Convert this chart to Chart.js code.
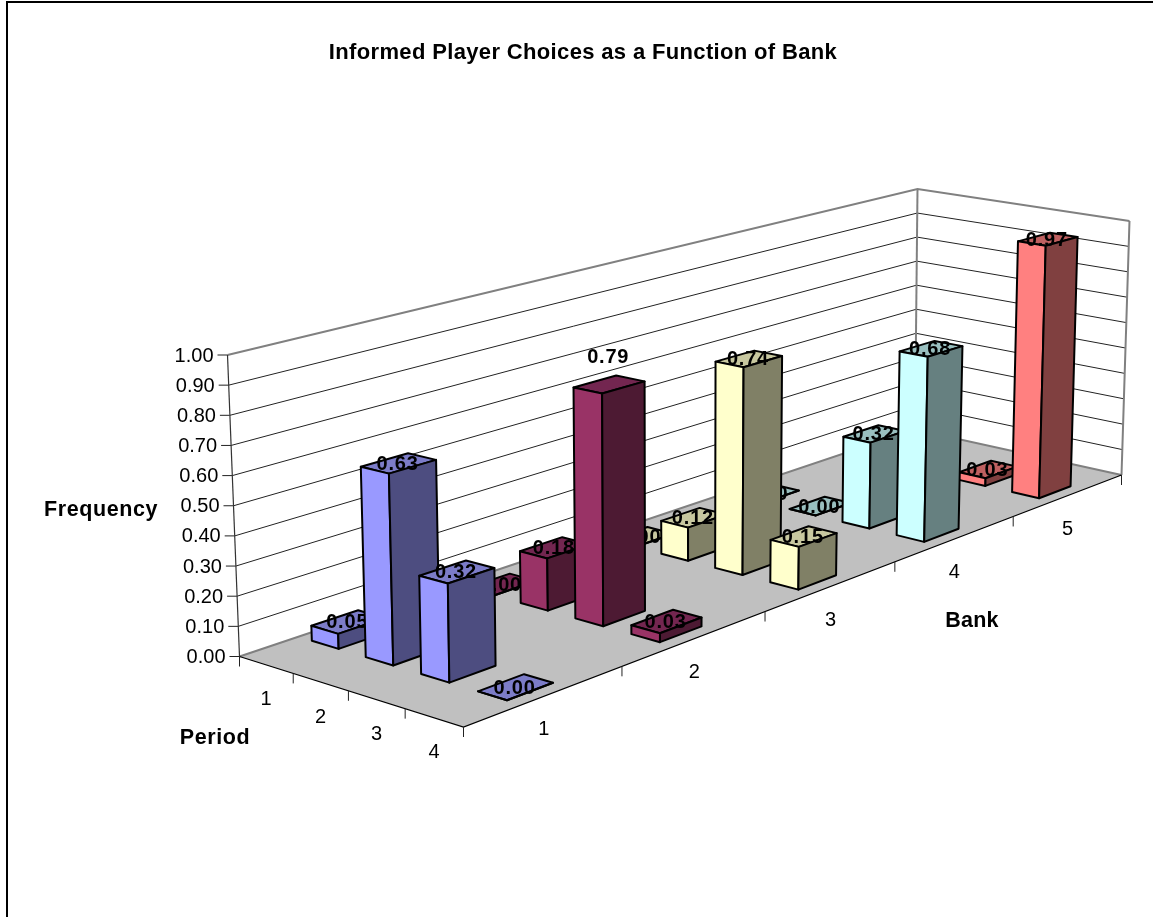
<!DOCTYPE html>
<html lang="en">
<head>
    <meta charset="UTF-8">
    <title>Informed Player Choices as a Function of Bank</title>
    <script src="https://cdn.jsdelivr.net/npm/chart.js"></script>
    <style>
        html, body { margin: 0; padding: 0; background: #fff; }
        canvas { display: block; }
    </style>
</head>
<body>
    <canvas id="chart" width="1153" height="917"></canvas>

    <script>
        const banks = ['1', '2', '3', '4', '5'];
        const periods = ['1', '2', '3', '4'];
        const bank1 = [0.05, 0.63, 0.32, 0.00];
        const bank2 = [0.00, 0.18, 0.79, 0.03];
        const bank3 = [0.00, 0.12, 0.74, 0.15];
        const bank4 = [0.00, 0.00, 0.32, 0.68];
        const bank5 = [null, null, 0.03, 0.97];
        const frequencyTicks = [0, 0.1, 0.2, 0.3, 0.4, 0.5, 0.6, 0.7, 0.8, 0.9, 1];

        // front, side and top shade per bank
        const shades = [
            ['#9999ff', '#4d4d80', '#7c7cc8'],
            ['#993366', '#4d1a33', '#732650'],
            ['#ffffcc', '#808066', '#c8c8a0'],
            ['#ccffff', '#668080', '#99bfbf'],
            ['#ff8080', '#804040', '#bf6060']
        ];

        // corners of the 3D box as seen in the picture: left, back, right, front
        const floorCorners = [[239.5, 656.5], [915, 429.5], [1121.5, 475], [463.5, 727]];
        const roofCorners = [[227.5, 355], [917.5, 189], [1129.5, 221], [460, 405]];
        const barWidth = 0.29;   // share of a bank cell
        const barDepth = 0.5;    // share of a period cell

        function homography(q) {
            const [[x0, y0], [x1, y1], [x2, y2], [x3, y3]] = q;
            const dx1 = x1 - x2, dx2 = x3 - x2, sx = x0 - x1 + x2 - x3;
            const dy1 = y1 - y2, dy2 = y3 - y2, sy = y0 - y1 + y2 - y3;
            const den = dx1 * dy2 - dx2 * dy1;
            const g = (sx * dy2 - dx2 * sy) / den;
            const h = (dx1 * sy - sx * dy1) / den;
            const a = x1 - x0 + g * x1, b = x3 - x0 + h * x3;
            const d = y1 - y0 + g * y1, e = y3 - y0 + h * y3;
            return (u, v) => {
                const w = g * u + h * v + 1;
                return [(a * u + b * v + x0) / w, (d * u + e * v + y0) / w];
            };
        }
        const floorMap = homography(floorCorners);
        const roofMap = homography(roofCorners);

        // bank position, period position, height (0..1) -> picture coordinates
        function project(b, p, w) {
            const lo = floorMap(b / banks.length, p / periods.length);
            const hi = roofMap(b / banks.length, p / periods.length);
            return [lo[0] + (hi[0] - lo[0]) * w, lo[1] + (hi[1] - lo[1]) * w];
        }

        const allBanks = [bank1, bank2, bank3, bank4, bank5];
        const datasets = allBanks.map((values, b) => ({
            label: 'Bank ' + banks[b],
            pointRadius: 0,
            data: values.map((value, p) => {
                const top = project(b + 0.5, p + 0.5, value === null ? 0 : value);
                return { x: top[0], y: top[1], value: value };
            })
        }));

        const box3d = {
            id: 'box3d',
            afterDatasetsDraw(chart) {
                const ctx = chart.ctx;
                const sx = chart.scales.x, sy = chart.scales.y, sf = chart.scales.freq;
                const pt = (b, p, value) => {
                    const q = project(b, p, sf.getDecimalForPixel(sf.getPixelForValue(value)));
                    return [sx.getPixelForValue(q[0]), sy.getPixelForValue(q[1])];
                };
                const line = (pts, color, width) => {
                    ctx.beginPath();
                    pts.forEach((q, i) => i ? ctx.lineTo(q[0], q[1]) : ctx.moveTo(q[0], q[1]));
                    ctx.strokeStyle = color;
                    ctx.lineWidth = width;
                    ctx.stroke();
                };
                const face = (pts, fill) => {
                    ctx.beginPath();
                    pts.forEach((q, i) => i ? ctx.lineTo(q[0], q[1]) : ctx.moveTo(q[0], q[1]));
                    ctx.closePath();
                    ctx.fillStyle = fill;
                    ctx.fill();
                    ctx.strokeStyle = '#000';
                    ctx.lineWidth = 2;
                    ctx.lineJoin = 'round';
                    ctx.stroke();
                };
                const text = (str, x, y, font, align, spacing) => {
                    ctx.font = font;
                    ctx.textAlign = align || 'center';
                    ctx.textBaseline = 'middle';
                    ctx.letterSpacing = spacing || '0px';
                    ctx.fillStyle = '#000';
                    ctx.fillText(str, x, y);
                };
                const nb = banks.length, np = periods.length;
                const plain = '20px "Liberation Sans", Arial, sans-serif';
                const bold = 'bold 21.5px "Liberation Sans", Arial, sans-serif';

                ctx.save();

                // page frame, only top and left show in the picture
                line([[7, 917], [7, 2], [1153, 2]], '#000', 2);

                // floor
                ctx.beginPath();
                [pt(0, 0, 0), pt(nb, 0, 0), pt(nb, np, 0), pt(0, np, 0)].forEach((q, i) =>
                    i ? ctx.lineTo(q[0], q[1]) : ctx.moveTo(q[0], q[1]));
                ctx.closePath();
                ctx.fillStyle = '#c0c0c0';
                ctx.fill();

                // walls and gridlines
                frequencyTicks.forEach(t => {
                    const a = pt(0, 0, t), b = pt(nb, 0, t), c = pt(nb, np, t);
                    if (t === 0 || t === 1) line([a, b, c], '#808080', 2);
                    else line([a, b, c], '#222', 1);
                    line([a, [a[0] - 10, a[1]]], '#222', 1);
                    text(t.toFixed(2), a[0] - 14, a[1] + 1, plain, 'right');
                });
                line([pt(nb, 0, 0), pt(nb, 0, 1)], '#808080', 2);
                line([pt(nb, np, 0), pt(nb, np, 1)], '#808080', 2);
                line([pt(0, 0, 0), pt(0, 0, 1)], '#333', 1.2);

                // front floor edges with ticks and category labels
                line([pt(0, 0, 0), pt(0, np, 0), pt(nb, np, 0)], '#000', 1.2);
                for (let p = 0; p <= np; p++) {
                    const q = pt(0, p, 0);
                    line([q, [q[0], q[1] + 10]], '#222', 1);
                }
                for (let b = 0; b <= nb; b++) {
                    const q = pt(b, np, 0);
                    line([q, [q[0], q[1] + 10]], '#222', 1);
                }
                periods.forEach((label, p) => {
                    const q = pt(0, p + 0.5, 0);
                    text(label, q[0], q[1] + 35, plain);
                });
                banks.forEach((label, b) => {
                    const q = pt(b + 0.5, np, 0);
                    text(label, q[0] - 1, q[1] + 34, plain);
                });

                // bars back to front, each with its label so nearer bars cover it
                for (let b = nb - 1; b >= 0; b--) {
                    const shade = shades[b];
                    allBanks[b].forEach((value, p) => {
                        if (value === null) return;
                        const u0 = b + 0.5 - barWidth / 2, u1 = b + 0.5 + barWidth / 2;
                        const v0 = p + 0.5 - barDepth / 2, v1 = p + 0.5 + barDepth / 2;
                        face([pt(u0, v0, value), pt(u1, v0, value), pt(u1, v1, value), pt(u0, v1, value)], shade[2]);
                        face([pt(u0, v0, 0), pt(u0, v1, 0), pt(u0, v1, value), pt(u0, v0, value)], shade[0]);
                        face([pt(u0, v1, 0), pt(u1, v1, 0), pt(u1, v1, value), pt(u0, v1, value)], shade[1]);
                        const c = pt(b + 0.5, p + 0.5, value);
                        // the 0.79 label sits above its bar in the original
                        const lift = value === 0.79 ? 28 : 0;
                        text(value.toFixed(2), c[0] - 1, c[1] + 1 - lift, 'bold 20px "Liberation Sans", Arial, sans-serif', 'center', '0.8px');
                    });
                }

                // titles
                text('Informed Player Choices as a Function of Bank', 583, 53, 'bold 22px "Liberation Sans", Arial, sans-serif', 'center', '0.35px');
                text('Frequency', 101, 510, bold, 'center', '0.6px');
                text('Period', 215, 738, bold, 'center', '0.6px');
                text('Bank', 972, 621, bold, 'center', '0.2px');

                ctx.restore();
            }
        };

        new Chart(document.getElementById('chart'), {
            type: 'scatter',
            data: { datasets: datasets },
            plugins: [box3d],
            options: {
                responsive: false,
                animation: false,
                layout: { padding: 0 },
                plugins: { legend: { display: false }, tooltip: { enabled: false } },
                scales: {
                    x: { type: 'linear', display: false, min: 0, max: 1153 },
                    y: { type: 'linear', display: false, min: 0, max: 917, reverse: true },
                    freq: { type: 'linear', axis: 'y', display: false, min: 0, max: 1 }
                }
            }
        });
    </script>
</body>
</html>
